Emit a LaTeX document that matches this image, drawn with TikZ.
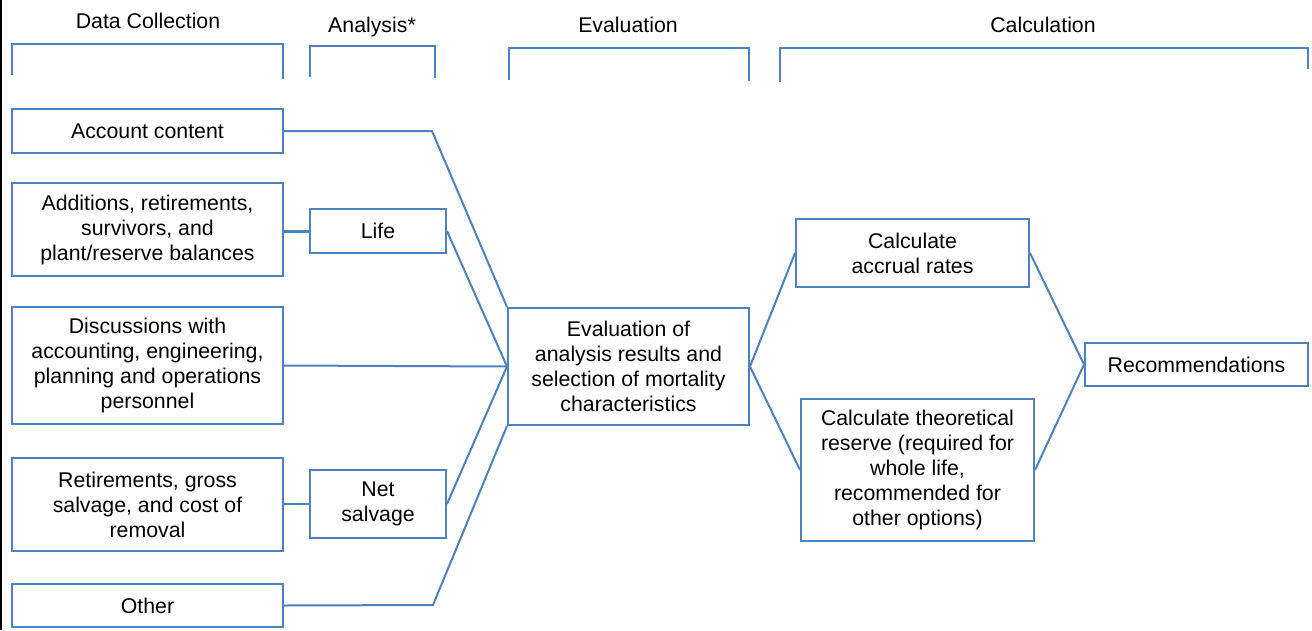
\documentclass[tikz,border=0pt]{standalone}
\usepackage{fontspec}
\setmainfont{Liberation Sans}
\definecolor{ln}{HTML}{4F81BD}
\begin{document}
\begin{tikzpicture}[x=1pt,y=-1pt,
  txt/.style={font=\fontsize{21.3}{25}\selectfont},
  box/.style={txt, draw=ln, line width=2pt, align=center, inner sep=0pt},
  head/.style={txt, inner sep=0pt, anchor=base},
  conn/.style={draw=ln, line width=2pt},
  brk/.style={draw=ln, line width=2pt}]
\useasboundingbox (0,0) rectangle (1312,630);
\draw[black, line width=1.5pt] (0.75,0) -- (0.75,630);

% headers
\node[head] (hdc) at (148,28) {Data Collection};
\node[head] (han) at (372,32) {Analysis*};
\node[head] (hev) at (628,32) {Evaluation};
\node[head] (hca) at (1043,32) {Calculation};

% brackets
\draw[brk] (12,75) -- (12,44) -- (283,44) -- (283,79);
\draw[brk] (310,77) -- (310,46) -- (435,46) -- (435,78);
\draw[brk] (509,80) -- (509,48) -- (749,48) -- (749,81);
\draw[brk] (780,82) -- (780,48) -- (1308,48) -- (1308,69);

% data collection column
\node[box, minimum width=271pt, minimum height=44pt] (acc) at (147.5,131) {Account content};
\node[box, minimum width=271pt, minimum height=93pt] (add) at (147.5,229.5) {Additions, retirements,\\survivors, and\\plant/reserve balances};
\node[box, minimum width=271pt, minimum height=117pt] (dis) at (147.5,365.5) {Discussions with\\accounting, engineering,\\planning and operations\\personnel};
\node[box, minimum width=271pt, minimum height=93pt] (ret) at (147.5,504.5) {Retirements, gross\\salvage, and cost of\\removal};
\node[box, minimum width=271pt, minimum height=43pt] (oth) at (147.5,605.5) {Other};

% analysis column
\node[box, minimum width=136pt, minimum height=44pt] (life) at (378,231) {Life};
\node[box, minimum width=136pt, minimum height=68pt] (net) at (378,504) {Net\\salvage};

% evaluation
\node[box, minimum width=241pt, minimum height=117pt] (ev) at (628.5,366.5) {Evaluation of\\analysis results and\\selection of mortality\\characteristics};

% calculation
\node[box, minimum width=233pt, minimum height=68pt] (acr) at (912.5,253) {Calculate\\accrual rates};
\node[box, minimum width=233pt, minimum height=142pt] (the) at (917.5,470) {Calculate theoretical\\reserve (required for\\whole life,\\recommended for\\other options)};
\node[box, minimum width=223pt, minimum height=43pt] (rec) at (1196.5,364.5) {Recommendations};

% connector bends
\coordinate (b1) at (432,131);
\coordinate (b2) at (433,605);

% connectors
\draw[conn] (acc.east) -- (b1) -- (ev.north west);
\draw[conn, line width=3pt] (add.east |- life.west) -- (life.west);
\draw[conn] (life.east) -- (ev.west);
\draw[conn] (dis.east) -- (ev.west);
\draw[conn] (ret.east |- net.west) -- (net.west);
\draw[conn] (net.east) -- (ev.west);
\draw[conn] (oth.east) -- (b2) -- (ev.south west);
\draw[conn] (ev.east) -- (acr.west);
\draw[conn] (ev.east) -- (the.west);
\draw[conn] (acr.east) -- (rec.west);
\draw[conn] (the.east) -- (rec.west);
\end{tikzpicture}
\end{document}
